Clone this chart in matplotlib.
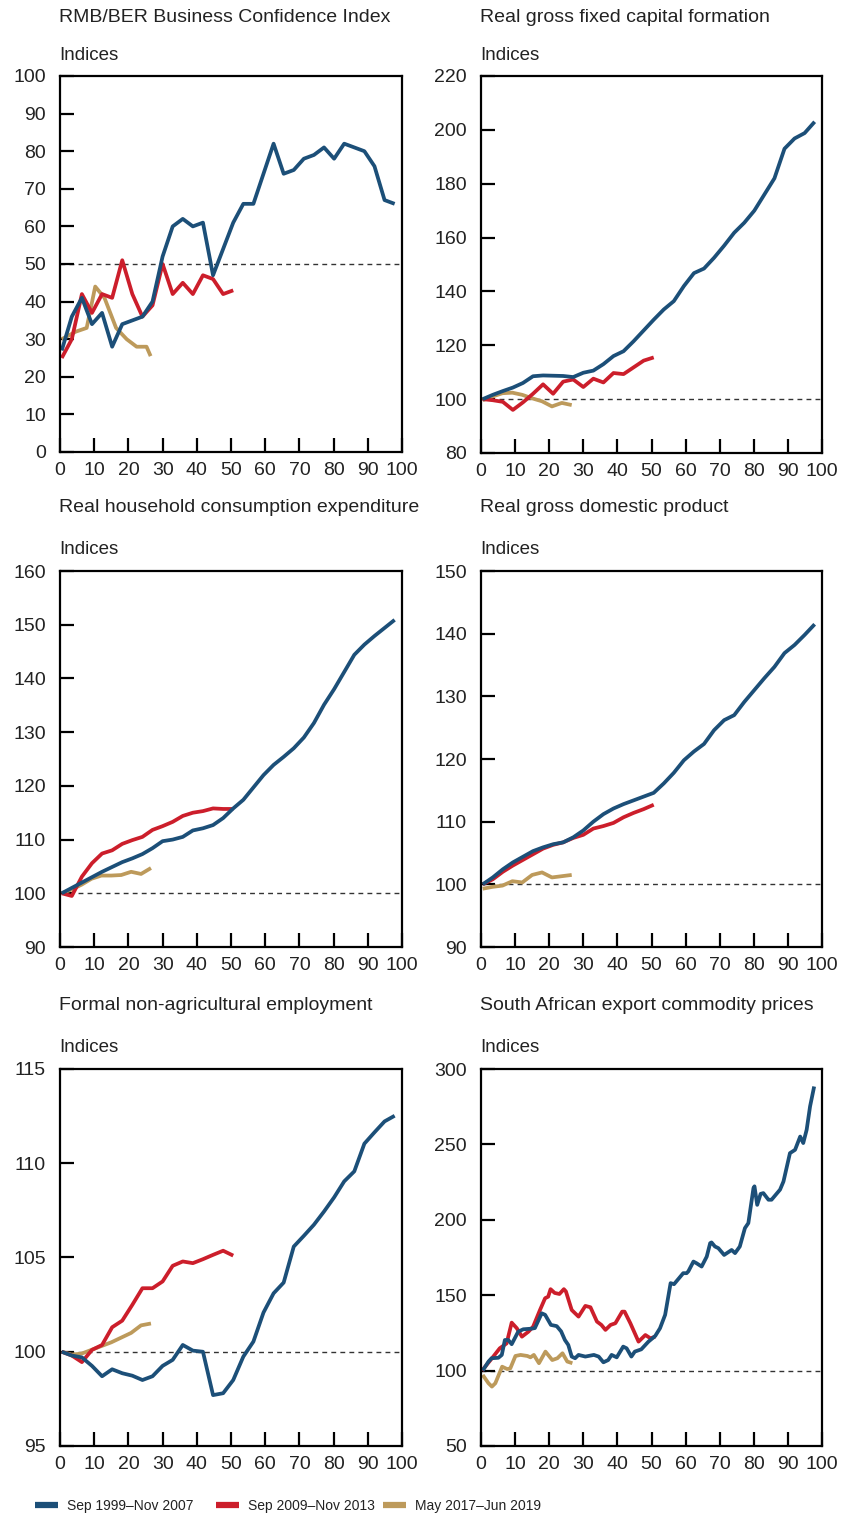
import numpy as np
import matplotlib
matplotlib.use("Agg")
import matplotlib.pyplot as plt
from matplotlib.lines import Line2D

plt.rcParams["font.family"] = ["Liberation Sans", "DejaVu Sans"]

BLUE = "#1c4f78"
RED = "#cc1e2b"
GOLD = "#bd9a5b"
TXT = "#222222"

labels = ["Sep 1999\u2013Nov 2007", "Sep 2009\u2013Nov 2013", "May 2017\u2013Jun 2019"]

# quarterly positions on the 0-100 month axis
qx = np.arange(34) * 2.95 + 0.5
gx = np.arange(10) * 2.9 + 0.5

# RMB/BER Business Confidence Index
bci_blue = [27, 36, 41, 34, 37, 28, 34, 35, 36, 40, 52, 60, 62, 60, 61, 47, 54, 61, 66, 66,
            74, 82, 74, 75, 78, 79, 81, 78, 82, 81, 80, 76, 67, 66]
bci_red = [25, 30, 42, 37, 42, 41, 51, 42, 36, 39, 50, 42, 45, 42, 47, 46, 42, 43]
bci_gold_x = [0.5, 4.6, 7.8, 10.3, 13.0, 16.4, 19.5, 22.4, 25.3, 26.5]
bci_gold = [30, 32, 33, 44, 41, 33, 30, 28, 28, 25.5]

# Real gross fixed capital formation
gfcf_blue = [100, 101.6, 103, 104.3, 106, 108.5, 108.8, 108.7, 108.6, 108.2, 109.8, 110.6,
             113, 116, 117.8, 121.5, 125.5, 129.5, 133.3, 136.4, 142, 146.8, 148.5, 152.5,
             157, 161.8, 165.5, 170, 176, 182, 193, 196.8, 198.8, 203]
gfcf_red = [100, 99.6, 99, 96, 98.8, 102, 105.5, 102, 106.5, 107.3, 104.5, 107.6, 106.2,
            109.7, 109.3, 111.8, 114.3, 115.5]
gfcf_gold = [99.6, 101, 102.2, 102.4, 101.6, 100.3, 99.2, 97.3, 98.6, 97.8]

# Real household consumption expenditure
hh_blue = [100, 101, 102, 103, 104, 104.9, 105.8, 106.5, 107.3, 108.4, 109.7, 110, 110.5,
           111.7, 112.1, 112.7, 114, 115.8, 117.4, 119.7, 122, 123.9, 125.4, 127, 129,
           131.7, 135.1, 138, 141.2, 144.4, 146.3, 147.9, 149.4, 150.9]
hh_red = [100, 99.5, 103.1, 105.6, 107.4, 108, 109.2, 109.9, 110.5, 111.8, 112.5, 113.3,
          114.4, 115, 115.3, 115.8, 115.7, 115.7]
hh_gold = [100, 100.7, 101.6, 102.7, 103.3, 103.3, 103.4, 104, 103.6, 104.7]

# Real gross domestic product
gdp_blue = [100, 101.1, 102.4, 103.5, 104.4, 105.3, 105.9, 106.4, 106.7, 107.5, 108.6, 110,
            111.2, 112.1, 112.8, 113.4, 114, 114.6, 116.1, 117.8, 119.8, 121.2, 122.4,
            124.6, 126.2, 127, 129.1, 131, 132.9, 134.7, 136.9, 138.2, 139.8, 141.5]
gdp_red = [100, 100.8, 102, 103, 103.9, 104.8, 105.7, 106.3, 106.7, 107.4, 107.9, 108.9,
           109.3, 109.8, 110.7, 111.4, 112, 112.7]
gdp_gold = [99.3, 99.6, 99.8, 100.5, 100.3, 101.5, 101.9, 101.1, 101.3, 101.5]

# Formal non-agricultural employment
emp_blue = [100, 99.8, 99.7, 99.25, 98.7, 99.07, 98.86, 98.73, 98.5, 98.7, 99.25, 99.57,
            100.36, 100.06, 100, 97.7, 97.8, 98.5, 99.74, 100.54, 102.08, 103.1, 103.67,
            105.58, 106.15, 106.74, 107.44, 108.19, 109.04, 109.57, 111.04, 111.64,
            112.22, 112.52]
emp_red = [100, 99.8, 99.45, 100.1, 100.36, 101.3, 101.65, 102.49, 103.37, 103.37, 103.73,
           104.56, 104.79, 104.7, 104.91, 105.14, 105.36, 105.1]
emp_gold = [100, 99.85, 99.9, 100.1, 100.3, 100.5, 100.75, 101.0, 101.4, 101.5]

# South African export commodity prices (monthly)
com_blue_x = [0.5, 2.2, 3.1, 5.1, 6.1, 7.0, 8.0, 9.0, 10.9, 12.4, 14.8, 15.8, 17.8, 18.8,
              20.5, 22.2, 23.5, 24.6, 25.6, 26.6, 27.6, 28.6, 30.6, 33.1, 34.5, 35.9, 37.3,
              38.3, 39.8, 41.7, 42.7, 44.1, 45.1, 47.0, 49.1, 51.1, 52.5, 54.0, 55.6, 56.6,
              59.3, 60.3, 60.8, 62.3, 63.2, 64.7, 66.2, 67.2, 67.6, 68.6, 69.6, 71.3, 73.5,
              74.5, 75.9, 77.4, 78.4, 79.9, 80.2, 81.0, 82.0, 82.8, 84.3, 85.2, 87.7, 88.7,
              89.6, 90.6, 92.1, 93.6, 94.5, 95.5, 96.5, 97.7]
com_blue = [100, 106, 108.2, 108.5, 110.4, 120.3, 120.3, 117.5, 125.8, 127.4, 127.8, 128.2,
            138, 137, 130.3, 129.5, 126, 120.3, 117, 109.3, 108.2, 110.4, 109.3, 110.4,
            109.3, 105.5, 107, 110.4, 108.8, 115.9, 114.8, 109.3, 112.6, 114.1, 119.2, 123,
            128.1, 137, 158, 157.3, 164.6, 164.6, 165.8, 172.3, 171.2, 169, 175.6, 184.5,
            185, 182.3, 181.2, 176.7, 180, 177.9, 182.3, 194.5, 197.8, 221, 222.2, 209.9,
            217.2, 217.7, 213.3, 213.3, 220, 225.4, 234.3, 244.2, 246.4, 255.2, 250.9,
            259.7, 275.2, 288.4]
com_red_x = [0.3, 3.6, 5.5, 7.5, 9.0, 10.5, 12.0, 13.9, 15.3, 17.3, 18.8, 19.7, 20.4, 21.6,
             23.0, 24.3, 24.9, 26.6, 28.6, 30.6, 32.1, 34.0, 35.3, 36.5, 38.0, 39.4, 41.4,
             42.1, 43.8, 46.2, 47.2, 48.2, 49.7, 51.1]
com_red = [100, 109.3, 114.8, 118, 131.8, 128.1, 122.5, 125.8, 129.2, 140.2, 148, 149, 154,
           151.5, 150.8, 154, 152.5, 140.2, 135.8, 142.9, 142, 132.5, 130.3, 127, 130.3,
           131.4, 139.1, 139.1, 131.4, 119.2, 121.4, 123.6, 121.4, 122.5]
com_gold_x = [0.5, 2.2, 3.2, 4.2, 6.2, 7.7, 8.6, 10.1, 11.6, 13.6, 14.5, 15.5, 17.0, 18.9,
              20.9, 22.4, 23.9, 25.3, 26.8]
com_gold = [97.1, 91.6, 89.4, 91.6, 102.6, 101, 101.5, 109.7, 110.4, 109.7, 108.8, 110.4,
            104.9, 112.6, 107, 108.2, 111.5, 106, 104.9]

W, H = 841, 1517
fig = plt.figure(figsize=(W / 100, H / 100), dpi=100)


def panel(box, title_y, title, ylim, ystep, ref, series):
    l, t, r, b = box
    ax = fig.add_axes([l / W, 1 - b / H, (r - l) / W, (b - t) / H])
    ax.axhline(ref, color="#333333", lw=1.0, ls=(0, (3.5, 3)), zorder=1)
    for x, y, c in series:
        ax.plot(x, y, color=c, lw=2.7, solid_capstyle="butt", zorder=2)
    ax.set_xlim(0, 100)
    ax.set_ylim(*ylim)
    ax.set_xticks(np.arange(0, 101, 10))
    ax.set_yticks(np.arange(ylim[0], ylim[1] + 1, ystep))
    ax.tick_params(direction="in", length=10, width=1.6, labelsize=14, colors="black",
                   labelcolor=TXT)
    ax.tick_params(axis="y", pad=10)
    ax.tick_params(axis="x", pad=7)
    for s in ax.spines.values():
        s.set_linewidth(1.6)
    fig.text((l - 1) / W, 1 - title_y / H, title, fontsize=14, color=TXT, va="center")
    fig.text((l - 1) / W, 1 - (t - 21) / H, "Indices", fontsize=13.5, color=TXT, va="center")
    return ax


panel((60, 76, 402, 452), 17, "RMB/BER Business Confidence Index", (0, 100), 10, 50,
      [(bci_gold_x, bci_gold, GOLD), (qx[:18], bci_red, RED), (qx, bci_blue, BLUE)])
panel((481, 76, 822, 453), 17, "Real gross fixed capital formation", (80, 220), 20, 100,
      [(gx, gfcf_gold, GOLD), (qx[:18], gfcf_red, RED), (qx, gfcf_blue, BLUE)])
panel((60, 571, 402, 947), 507, "Real household consumption expenditure", (90, 160), 10, 100,
      [(gx, hh_gold, GOLD), (qx[:18], hh_red, RED), (qx, hh_blue, BLUE)])
panel((481, 571, 822, 947), 507, "Real gross domestic product", (90, 150), 10, 100,
      [(gx, gdp_gold, GOLD), (qx[:18], gdp_red, RED), (qx, gdp_blue, BLUE)])
panel((60, 1069, 402, 1446), 1005, "Formal non-agricultural employment", (95, 115), 5, 100,
      [(gx, emp_gold, GOLD), (qx[:18], emp_red, RED), (qx, emp_blue, BLUE)])
panel((481, 1069, 822, 1446), 1005, "South African export commodity prices", (50, 300), 50, 100,
      [(com_gold_x, com_gold, GOLD), (com_red_x, com_red, RED), (com_blue_x, com_blue, BLUE)])

# legend, one entry per block as in the source layout
for lab, col, x0 in zip(labels, [BLUE, RED, GOLD], [35, 216, 383]):
    h = Line2D([], [], color=col, lw=4.5, solid_capstyle="butt")
    fig.legend([h], [lab], loc="center left", bbox_to_anchor=(x0 / W, 1 - 1506 / H),
               frameon=False, borderpad=0, borderaxespad=0, handlelength=1.65,
               handletextpad=0.65, prop={"size": 10}, labelcolor=TXT)

fig.savefig("out.png", dpi=100)
